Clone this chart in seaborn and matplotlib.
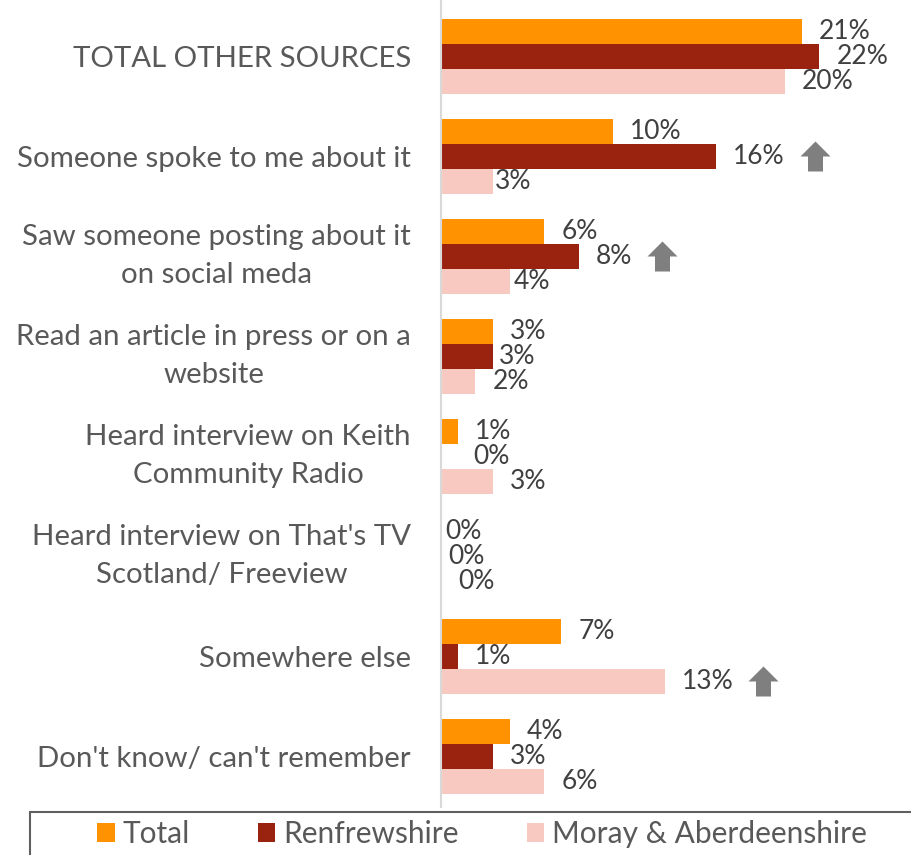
import matplotlib
matplotlib.use("Agg")
import matplotlib.pyplot as plt
from matplotlib.path import Path
from matplotlib.patches import Patch, Rectangle
import seaborn as sns
import pandas as pd

# ---- data -------------------------------------------------------------
categories = [
    "TOTAL OTHER SOURCES",
    "Someone spoke to me about it",
    "Saw someone posting about it\non social meda",
    "Read an article in press or on a\nwebsite",
    "Heard interview on Keith\nCommunity Radio",
    "Heard interview on That's TV\nScotland/ Freeview",
    "Somewhere else",
    "Don't know/ can't remember",
]
series = ["Total", "Renfrewshire", "Moray & Aberdeenshire"]
total = [21, 10, 6, 3, 1, 0, 7, 4]
renfrewshire = [22, 16, 8, 3, 0, 0, 1, 3]
moray_aberdeenshire = [20, 3, 4, 2, 3, 0, 13, 6]
# (category index, series index) of results flagged as significantly higher
significant_up = [(1, 1), (2, 1), (6, 2)]

# ---- style ------------------------------------------------------------
colors = ["#FF9200", "#9A2310", "#F8C9C0"]
text_grey = "#595959"
value_grey = "#404040"
arrow_grey = "#7F7F7F"

sns.set_style("white")
plt.rcParams["font.family"] = ["Lato", "DejaVu Sans"]

df = pd.DataFrame({
    "category": categories * 3,
    "series": [s for s in series for _ in categories],
    "value": total + renfrewshire + moray_aberdeenshire,
})

W, H, DPI = 912, 855, 100
px2pt = 72 / DPI
fig = plt.figure(figsize=(W / DPI, H / DPI), dpi=DPI)
ax = fig.add_axes([441 / W, 1 - 807 / H, 1 - 441 / W, 807 / H])

sns.barplot(
    data=df, y="category", x="value", hue="series", order=categories,
    hue_order=series, palette=colors, orient="h", width=0.75,
    linewidth=0, saturation=1, legend=False, ax=ax,
)

ax.set_xlim(0, (W - 441) / 17.2)
ax.set_ylim(7.51, -0.56)
ax.set_xlabel("")
ax.set_ylabel("")
ax.set_xticks([])
for side in ["top", "right", "bottom"]:
    ax.spines[side].set_visible(False)
ax.spines["left"].set_color("#D9D9D9")
ax.spines["left"].set_linewidth(1.5)

# category labels: right-aligned, wrapped lines centred on each other
ticks = ax.get_yticks()
ax.set_yticks(ticks, [""] * len(ticks))
ax.tick_params(axis="y", length=0)
for pos, name in zip(ticks, categories):
    ax.annotate(
        name, xy=(0, pos), xytext=(-30 * px2pt, 0), textcoords="offset points",
        ha="right", va="center" if "\n" in name else "center_baseline",
        multialignment="center", linespacing=1.57, fontsize=21.2,
        color=text_grey, annotation_clip=False,
    )

# value labels, default gap after the bar end (pixels) and a few hand nudges
default_gap = 17
gap_override = {(1, 2): 2, (2, 2): 4, (3, 1): 6, (4, 1): 32,
                (5, 0): 4, (5, 1): 7, (5, 2): 17}
value_texts = {}
for s_idx, cont in enumerate(ax.containers):
    for c_idx, bar in enumerate(cont):
        v = df[(df.series == series[s_idx])].value.iloc[c_idx]
        yc = bar.get_y() + bar.get_height() / 2
        gap = gap_override.get((c_idx, s_idx), default_gap)
        t = ax.annotate(
            f"{v}%", xy=(v, yc), xytext=(gap * px2pt, 0),
            textcoords="offset points", ha="left", va="center",
            fontsize=19, color=value_grey, annotation_clip=False,
        )
        value_texts[(c_idx, s_idx)] = (t, yc)

# up arrows next to flagged values
arrow = Path(
    [(0, 1), (-1, 0), (-0.5, 0), (-0.5, -1), (0.5, -1), (0.5, 0), (1, 0), (0, 1)],
    [Path.MOVETO] + [Path.LINETO] * 6 + [Path.CLOSEPOLY],
)
fig.canvas.draw()
renderer = fig.canvas.get_renderer()
for key in significant_up:
    t, yc = value_texts[key]
    bb = t.get_window_extent(renderer)
    x_disp = bb.x1 + 15 + 15
    y_disp = ax.transData.transform((0, yc))[1]
    xd, yd = ax.transData.inverted().transform((x_disp, y_disp))
    ax.plot([xd], [yd], marker=arrow, markersize=30 * px2pt, color=arrow_grey,
            markeredgewidth=0, clip_on=False)

# legend along the bottom, inside an open-ended frame
handles = [Patch(facecolor=c, edgecolor="none") for c in colors]
leg = fig.legend(
    handles, series, loc="center", bbox_to_anchor=(482 / W, 1 - 834 / H),
    ncol=3, frameon=False, fontsize=21.5, handlelength=0.58,
    handleheight=0.62, handletextpad=0.25, columnspacing=2.3,
)
for txt in leg.get_texts():
    txt.set_color(text_grey)
fig.patches.append(Rectangle(
    (30 / W, -0.05), 1.0, (855 - 812) / H + 0.05, transform=fig.transFigure,
    facecolor="none", edgecolor="#5F5F5F", linewidth=1.5, clip_on=False,
))

fig.savefig("out.png", dpi=DPI)
